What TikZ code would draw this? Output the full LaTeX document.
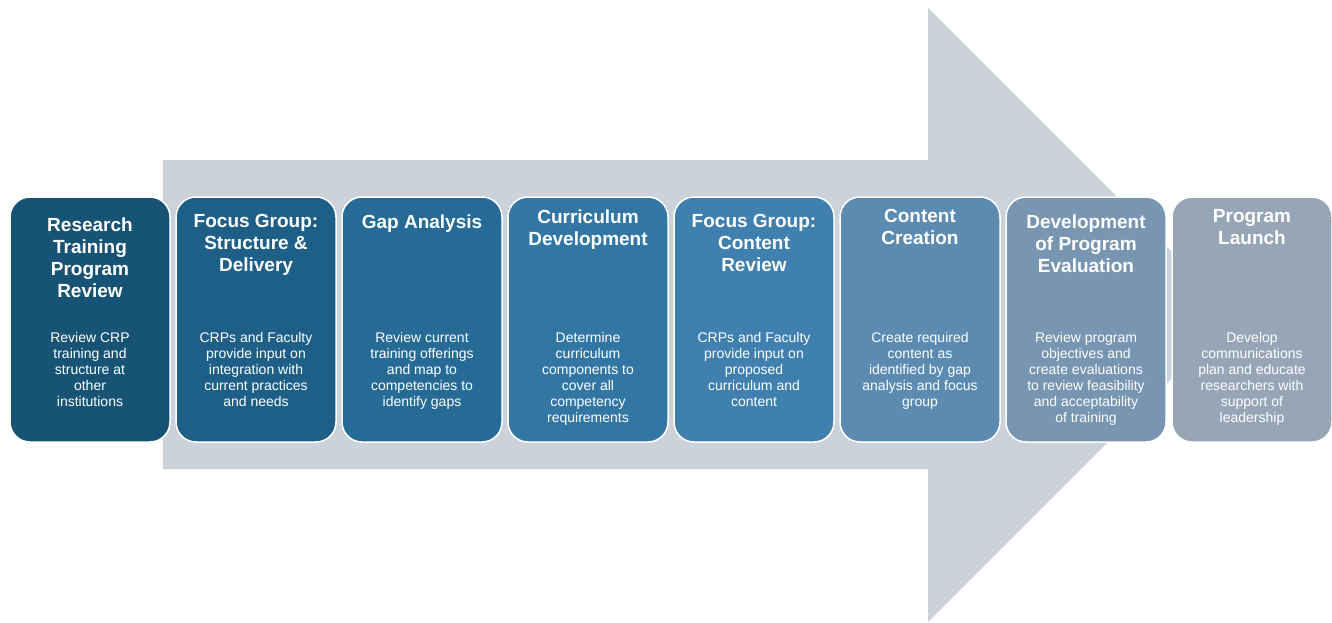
\documentclass[tikz,border=0pt]{standalone}
\usepackage{fontspec}
\setmainfont{Liberation Sans}
\definecolor{arrowgray}{HTML}{CCD2DA}
\definecolor{c1}{HTML}{175374}
\definecolor{c2}{HTML}{1D5F87}
\definecolor{c3}{HTML}{256B96}
\definecolor{c4}{HTML}{3277A4}
\definecolor{c5}{HTML}{3F80AE}
\definecolor{c6}{HTML}{5C8BB2}
\definecolor{c7}{HTML}{7896B2}
\definecolor{c8}{HTML}{97A6B6}
\begin{document}
\begin{tikzpicture}[x=1pt,y=-1pt,
  box/.style={draw=white, line width=1.5pt, rounded corners=20pt, minimum width=160pt, minimum height=245pt, inner sep=0pt},
  ttl/.style={anchor=north, inner sep=0pt, align=center, text=white, font=\fontsize{19}{22}\selectfont\bfseries},
  bdy/.style={anchor=north, inner sep=0pt, align=center, text=white, font=\fontsize{14}{16}\selectfont}]
\useasboundingbox (0,0) rectangle (1332,623);
\fill[arrowgray] (163,160) -- (928,160) -- (928,8) -- (1235,315) -- (928,622) -- (928,469) -- (163,469) -- cycle;

\node[box, fill=c1] (b1) at (90,319.5) {};
\node[box, fill=c2] (b2) at (256,319.5) {};
\node[box, fill=c3] (b3) at (422,319.5) {};
\node[box, fill=c4] (b4) at (588,319.5) {};
\node[box, fill=c5] (b5) at (754,319.5) {};
\node[box, fill=c6] (b6) at (920,319.5) {};
\node[box, fill=c7] (b7) at (1086,319.5) {};
\node[box, fill=c8] (b8) at (1252,319.5) {};

\node[ttl] (t1) at ([yshift=-21pt]b1.north) {Research\\Training\\Program\\Review};
\node[ttl] (t2) at ([yshift=-18pt]b2.north) {Focus Group:\\Structure \&\\Delivery};
\node[ttl] (t3) at ([yshift=-18pt]b3.north) {Gap Analysis};
\node[ttl] (t4) at ([yshift=-13pt]b4.north) {Curriculum\\Development};
\node[ttl] (t5) at ([yshift=-18pt]b5.north) {Focus Group:\\Content\\Review};
\node[ttl] (t6) at ([yshift=-13pt]b6.north) {Content\\Creation};
\node[ttl] (t7) at ([yshift=-18pt]b7.north) {Development\\of Program\\Evaluation};
\node[ttl] (t8) at ([yshift=-13pt]b8.north) {Program\\Launch};

\node[bdy] (d1) at ([yshift=-136pt]b1.north) {Review CRP\\training and\\structure at\\other\\institutions};
\node[bdy] (d2) at ([yshift=-136pt]b2.north) {CRPs and Faculty\\provide input on\\integration with\\current practices\\and needs};
\node[bdy] (d3) at ([yshift=-136pt]b3.north) {Review current\\training offerings\\and map to\\competencies to\\identify gaps};
\node[bdy] (d4) at ([yshift=-136pt]b4.north) {Determine\\curriculum\\components to\\cover all\\competency\\requirements};
\node[bdy] (d5) at ([yshift=-136pt]b5.north) {CRPs and Faculty\\provide input on\\proposed\\curriculum and\\content};
\node[bdy] (d6) at ([yshift=-136pt]b6.north) {Create required\\content as\\identified by gap\\analysis and focus\\group};
\node[bdy] (d7) at ([yshift=-136pt]b7.north) {Review program\\objectives and\\create evaluations\\to review feasibility\\and acceptability\\of training};
\node[bdy] (d8) at ([yshift=-136pt]b8.north) {Develop\\communications\\plan and educate\\researchers with\\support of\\leadership};
\end{tikzpicture}
\end{document}
